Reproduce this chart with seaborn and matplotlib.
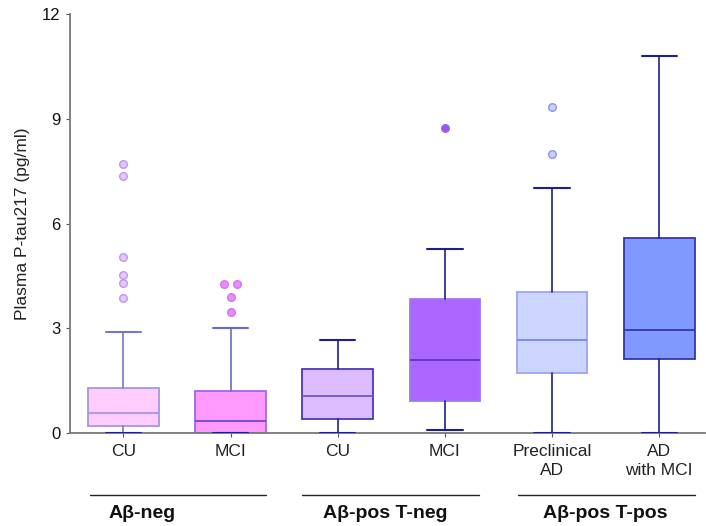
import matplotlib
matplotlib.use("Agg")
import matplotlib.pyplot as plt
import matplotlib.transforms as mtransforms
import seaborn as sns

# ---------------------------------------- data ----------------------------------------
labels = ["CU", "MCI", "CU", "MCI", "Preclinical\nAD", "AD\nwith MCI"]
whislo = [0.0, 0.0, 0.0, 0.07, 0.0, 0.0]
q1 = [0.20, 0.0, 0.41, 0.91, 1.72, 2.11]
med = [0.58, 0.33, 1.05, 2.09, 2.66, 2.96]
q3 = [1.30, 1.21, 1.82, 3.84, 4.03, 5.58]
whishi = [2.90, 3.02, 2.65, 5.27, 7.03, 10.81]
fliers = [
    [7.70, 7.37, 5.05, 4.53, 4.29, 3.88],
    [4.27, 4.27, 3.89, 3.46],
    [],
    [8.75],
    [9.33, 8.00],
    [],
]
groups = ["Aβ-neg", "Aβ-pos T-neg", "Aβ-pos T-pos"]

# styles
fills = ["#FFCCFF", "#FF99FF", "#DDBBFF", "#AA66FF", "#CCD5FF", "#8099FF"]
edges = ["#A399E0", "#9A6AE8", "#4A3AB0", "#9A7AEE", "#9AA6EE", "#3535AA"]
meds = ["#A399E0", "#6A4ACC", "#6A5AC8", "#5A3ABB", "#7788DD", "#3535AA"]
whisk = ["#7777CC", "#6A6ACC", "#1E1E90", "#1E1E90", "#1E1E90", "#1E1E90"]
flier_fc = ["#E6C6FF", "#EE88FF", "none", "#9955EE", "#C8D0FF", "none"]
flier_ec = ["#BB99EE", "#CC77EE", "none", "#9966EE", "#8899DD", "none"]

sns.set_style("ticks")
plt.rcParams["font.family"] = ["Liberation Sans", "DejaVu Sans"]

fig = plt.figure(figsize=(7.06, 5.26), dpi=100)
ax = fig.add_axes([0.099, 0.177, 0.900, 0.796])

stats = []
for i in range(len(labels)):
    stats.append({"med": med[i], "q1": q1[i], "q3": q3[i], "whislo": whislo[i],
                  "whishi": whishi[i], "fliers": [], "label": labels[i]})

bp = ax.bxp(stats, positions=range(len(labels)), widths=0.66, patch_artist=True,
            showfliers=False)

for i, box in enumerate(bp["boxes"]):
    box.set_facecolor(fills[i])
    box.set_edgecolor(edges[i])
    box.set_linewidth(1.3)
    bp["medians"][i].set_color(meds[i])
    bp["medians"][i].set_linewidth(1.3)
    for w in bp["whiskers"][2 * i:2 * i + 2]:
        w.set_color(whisk[i])
        w.set_linewidth(1.2)
    for j, c in enumerate(bp["caps"][2 * i:2 * i + 2]):
        c.set_color("#1E1E90" if j == 0 else whisk[i])
        c.set_linewidth(1.5)
        c.set_zorder(5)
        c.set_xdata([i - 0.165, i + 0.165])

# outliers
for i, vals in enumerate(fliers):
    if not vals:
        continue
    xs = [i] * len(vals)
    if i == 1:
        xs = [i - 0.06, i + 0.06, i, i]
    ax.scatter(xs, vals, s=30, facecolor=flier_fc[i], edgecolor=flier_ec[i],
               linewidth=1.0, zorder=4)

ax.set_xlim(-0.5, 5.43)
ax.set_ylim(0, 12)
ax.set_yticks([0, 3, 6, 9, 12])
ax.set_xticks(range(len(labels)))
ax.set_xticklabels(labels, fontsize=12.5, color="#222222", linespacing=1.35)
ax.tick_params(axis="y", labelsize=12, length=3, width=0.8, color="#555555",
               labelcolor="#111111")
ax.tick_params(axis="x", length=3, width=0.8, color="#555555", pad=5)
ax.set_ylabel("Plasma P-tau217 (pg/ml)", fontsize=12.5, color="#222222", labelpad=9)
for sp in ["left", "bottom"]:
    ax.spines[sp].set_color("#777777")
    ax.spines[sp].set_linewidth(1.3)
sns.despine(ax=ax)

# group annotation lines and labels
trans = mtransforms.blended_transform_factory(ax.transData, ax.transAxes)
line_spans = [(-0.31, 1.33), (1.67, 3.32), (3.68, 5.33)]
label_x = [0.17, 2.44, 4.5]
for (x0, x1), lx, g in zip(line_spans, label_x, groups):
    ax.plot([x0, x1], [-0.148, -0.148], color="#222222", linewidth=1.0,
            transform=trans, clip_on=False)
    ax.text(lx, -0.193, g, transform=trans, ha="center", va="center",
            fontsize=14, fontweight="bold", color="#111111")

fig.savefig("out.png", dpi=100)
